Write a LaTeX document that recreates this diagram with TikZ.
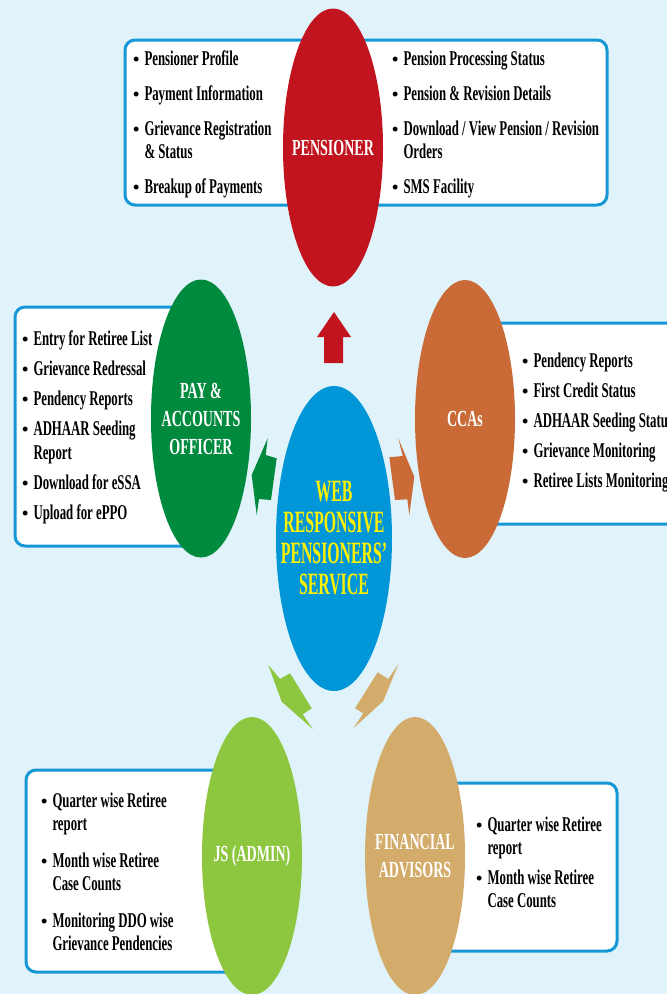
\documentclass[tikz,border=0pt]{standalone}
\usepackage{fontspec}
\setmainfont{Liberation Serif}[FakeStretch=0.61]
\newfontfamily\webfont{Liberation Serif}[FakeStretch=0.51]
\newfontfamily\puntofont{Liberation Serif}
\usetikzlibrary{shapes.geometric}
\definecolor{sfondo}{RGB}{224,242,250}
\definecolor{bordo}{RGB}{22,152,214}
\definecolor{rosso}{RGB}{193,20,30}
\definecolor{azzurro}{RGB}{0,150,216}
\definecolor{verde}{RGB}{0,138,62}
\definecolor{arancio}{RGB}{201,106,55}
\definecolor{verdechiaro}{RGB}{141,198,63}
\definecolor{sabbia}{RGB}{211,171,106}
\definecolor{giallo}{RGB}{255,242,0}
\newcommand{\pt}{{\puntofont\fontsize{18}{18}\selectfont\textbullet}}
\begin{document}
\begin{tikzpicture}[x=1pt,y=-1pt,
  riquadro/.style={draw=bordo,line width=3pt,fill=white,rounded corners=10pt},
  ovale/.style={ellipse,inner sep=0pt,minimum width=100pt,minimum height=278pt},
  titolo/.style={text=white,align=center,inner sep=0pt,font=\fontsize{23}{28}\selectfont\bfseries},
  elenco/.style={anchor=base west,inner sep=0pt,font=\fontsize{21}{23}\selectfont\bfseries}]
\useasboundingbox (0,0) rectangle (667,994);
\fill[sfondo] (0,0) rectangle (667,994);
% riquadri
\draw[riquadro] (125,40) rectangle (607,205);
\draw[riquadro] (15,307) rectangle (210,546);
\draw[riquadro] (460,323) rectangle (700,524);
\draw[riquadro] (26,770) rectangle (240,972);
\draw[riquadro] (400,783) rectangle (617,951);
% frecce
\def\frecciaPensioner{(334,312)--(351,337)--(343,337)--(343,363)--(324,363)--(324,337)--(317,337)--cycle}
\def\frecciaPAO{(267.7,438.3)--(251.7,475)--(256.7,515)--(259,499)--(271,500)--(276.7,458.3)--(265.7,455)--cycle}
\def\frecciaCCA{(398.3,438.3)--(402.7,456)--(389.3,457.3)--(395,500)--(407.3,499.3)--(409.3,515)--(414.3,476.7)--cycle}
\def\frecciaJS{(268.3,665)--(280,679)--(290,673.3)--(311.7,708.3)--(302.7,714.3)--(312.7,729)--(281.7,701.7)--cycle}
\def\frecciaFA{(398.3,664.3)--(388.3,679)--(377.7,672.3)--(355,708.3)--(363.3,713.3)--(353.3,728.3)--(383.3,701)--cycle}
\fill[rosso] \frecciaPensioner;
\fill[verde] \frecciaPAO;
\fill[arancio] \frecciaCCA;
\fill[verdechiaro] \frecciaJS;
\fill[sabbia] \frecciaFA;
% ovali
\node[ovale,fill=rosso] (pensioner) at (333,147.5) {};
\node[ovale,fill=verde] (pao) at (201,418.5) {};
\node[ovale,fill=arancio] (cca) at (465,419) {};
\node[ovale,fill=verdechiaro] (js) at (252,856) {};
\node[ovale,fill=sabbia] (fa) at (415,856) {};
\node[ovale,fill=azzurro,minimum width=116pt,minimum height=305pt] (web) at (334,538.5) {};
\node[titolo] (pensionerT) at (pensioner) {PENSIONER};
\node[titolo] (paoT) at (pao) {PAY \&\\ACCOUNTS\\OFFICER};
\node[titolo] (ccaT) at (cca) {CCAs};
\node[titolo] (jsT) at (js) {JS (ADMIN)};
\node[titolo] (faT) at (fa) {FINANCIAL\\ADVISORS};
\node[titolo,text=giallo,font=\webfont\fontsize{31}{31}\selectfont\bfseries] (webT) at (web)
  {WEB\\RESPONSIVE\\PENSIONERS’\\SERVICE};
% elenchi
\node[elenco] (pensionerA) at (133,65) {\begin{tabular}[t]{@{}l@{\hspace{5pt}}l@{}}
\pt & Pensioner Profile\\[12pt]
\pt & Payment Information\\[12pt]
\pt & Grievance Registration\\
    & \& Status\\[12pt]
\pt & Breakup of Payments
\end{tabular}};
\node[elenco] (pensionerB) at (392,65) {\begin{tabular}[t]{@{}l@{\hspace{5pt}}l@{}}
\pt & Pension Processing Status\\[12pt]
\pt & Pension \& Revision Details\\[12pt]
\pt & Download / View Pension / Revision\\
    & Orders\\[12pt]
\pt & SMS Facility
\end{tabular}};
\node[elenco] (paoList) at (22,345) {\begin{tabular}[t]{@{}l@{\hspace{5pt}}l@{}}
\pt & Entry for Retiree List\\[7pt]
\pt & Grievance Redressal\\[7pt]
\pt & Pendency Reports\\[7pt]
\pt & ADHAAR Seeding\\[1pt]
    & Report\\[7pt]
\pt & Download for eSSA\\[7pt]
\pt & Upload for ePPO
\end{tabular}};
\node[elenco] (ccaList) at (522,367) {\begin{tabular}[t]{@{}l@{\hspace{5pt}}l@{}}
\pt & Pendency Reports\\[7pt]
\pt & First Credit Status\\[7pt]
\pt & ADHAAR Seeding Status\\[7pt]
\pt & Grievance Monitoring\\[7pt]
\pt & Retiree Lists Monitoring
\end{tabular}};
\node[elenco] (jsList) at (41,807) {\begin{tabular}[t]{@{}l@{\hspace{5pt}}l@{}}
\pt & Quarter wise Retiree\\
    & report\\[14pt]
\pt & Month wise Retiree\\
    & Case Counts\\[14pt]
\pt & Monitoring DDO wise\\
    & Grievance Pendencies
\end{tabular}};
\node[elenco] (faList) at (476,831) {\begin{tabular}[t]{@{}l@{\hspace{5pt}}l@{}}
\pt & Quarter wise Retiree\\
    & report\\[7pt]
\pt & Month wise Retiree\\
    & Case Counts
\end{tabular}};
\end{tikzpicture}
\end{document}
